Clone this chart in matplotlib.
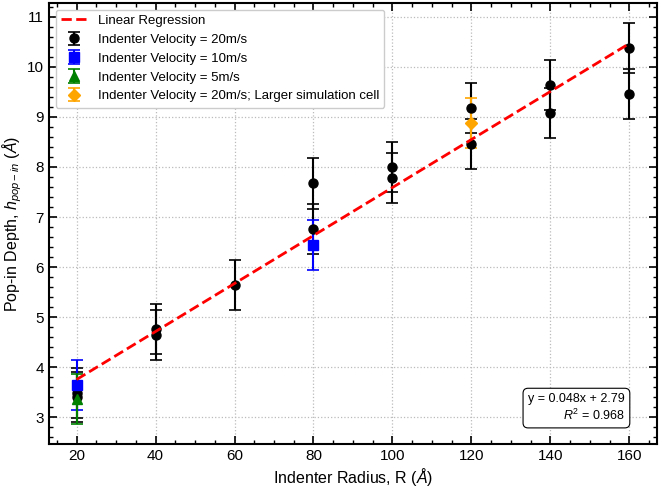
import numpy as np
import matplotlib
matplotlib.use("Agg")
import matplotlib.pyplot as plt

plt.rcParams.update({
    "font.family": ["Liberation Sans", "DejaVu Sans"],
    "mathtext.fontset": "custom",
    "mathtext.rm": "Liberation Sans",
    "mathtext.it": "Liberation Sans:italic",
    "mathtext.bf": "Liberation Sans:bold",
})

# data
x_20 = [20, 20, 40, 40, 60, 80, 80, 100, 100, 120, 120, 140, 140, 160, 160]
y_20 = [3.49, 3.41, 4.77, 4.64, 5.65, 7.67, 6.76, 8.00, 7.78, 9.17, 8.45, 9.63, 9.07, 10.38, 9.45]
e_20 = [0.5] * len(x_20)

x_10 = [20, 80]
y_10 = [3.64, 6.44]
e_10 = [0.5, 0.5]

x_5 = [20]
y_5 = [3.36]
e_5 = [0.5]

x_big = [120]
y_big = [8.87]
e_big = [0.5]

slope = 0.048
intercept = 2.79
r2 = 0.968
x_fit = np.array([20, 160])

fig = plt.figure(figsize=(6.61, 4.88), dpi=100)
ax = fig.add_axes([0.074, 0.09, 0.920, 0.904])

ax.plot(x_fit, slope * x_fit + intercept, "--", color="red", lw=2, label="Linear Regression", zorder=4)

kw = dict(capsize=4, elinewidth=1.5, capthick=1.2, markersize=6.5, ls="none", zorder=3)
ax.errorbar(x_20, y_20, yerr=e_20, fmt="o", color="black", label="Indenter Velocity = 20m/s", **kw)
ax.errorbar(x_10, y_10, yerr=e_10, fmt="s", color="blue", label="Indenter Velocity = 10m/s", **kw)
ax.errorbar(x_5, y_5, yerr=e_5, fmt="^", color="green", label="Indenter Velocity = 5m/s", **kw)
ax.errorbar(x_big, y_big, yerr=e_big, fmt="D", color="orange",
            label="Indenter Velocity = 20m/s; Larger simulation cell", **kw)

ax.set_xlabel(r"Indenter Radius, R ($\mathit{\AA}$)", fontsize=11.5, labelpad=2.5)
ax.set_ylabel(r"Pop-in Depth, $h_{pop-in}$ ($\mathit{\AA}$)", fontsize=11.5, labelpad=2.5)

ax.set_xticks([20, 40, 60, 80, 100, 120, 140, 160])
ax.set_yticks(range(3, 12))
ax.minorticks_on()
ax.xaxis.set_minor_locator(matplotlib.ticker.MultipleLocator(5))
ax.yaxis.set_minor_locator(matplotlib.ticker.MultipleLocator(0.2))
ax.tick_params(which="both", direction="in", top=True, right=True, labelsize=11)
ax.tick_params(which="major", length=6, width=1.2)
ax.tick_params(which="minor", length=3, width=1)
for s in ax.spines.values():
    s.set_linewidth(1.5)

ax.grid(True, which="major", ls=":", color="#bbbbbb", lw=0.9)

leg = ax.legend(loc="upper left", fontsize=9.5, fancybox=True, framealpha=1, edgecolor="#cccccc")

ax.text(0.947, 0.048, "y = %.3fx + %.2f\n$R^2$ = %.3f" % (slope, intercept, r2),
        transform=ax.transAxes, ha="right", va="bottom", fontsize=9, multialignment="right",
        bbox=dict(boxstyle="round,pad=0.4", fc="white", ec="black", lw=0.8))

fig.savefig("out.png", dpi=100)
